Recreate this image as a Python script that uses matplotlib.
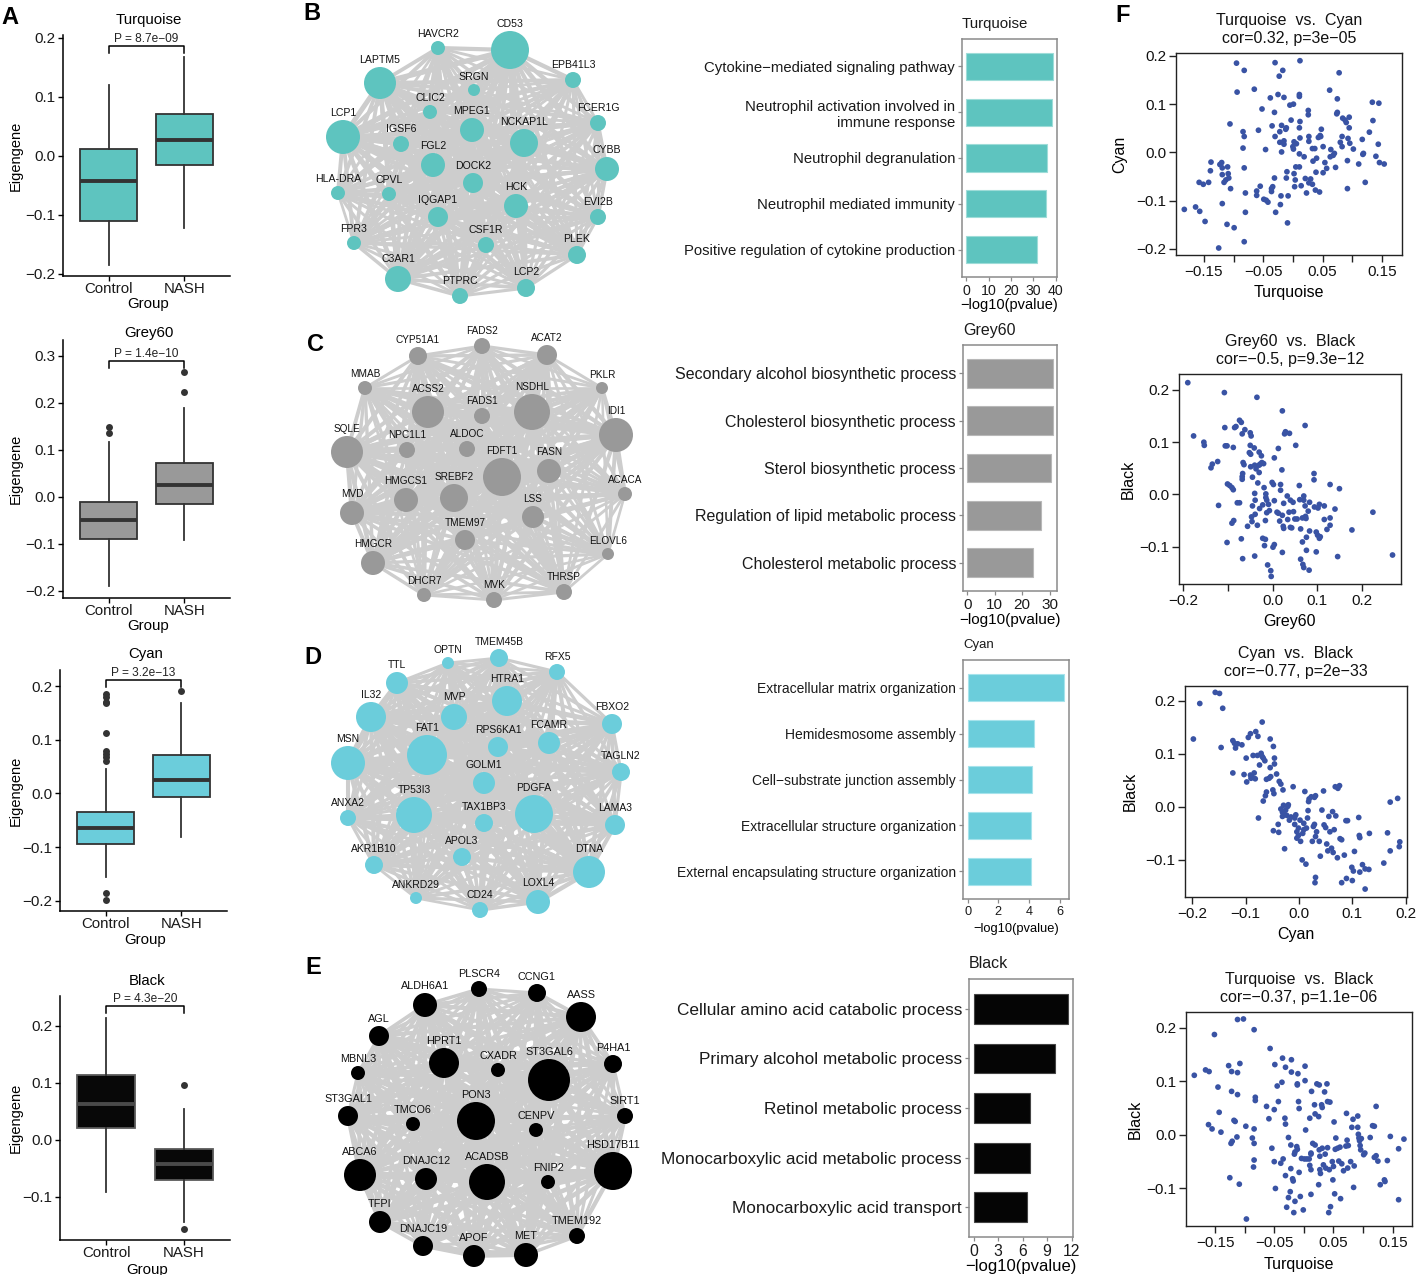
import numpy as np
import matplotlib
matplotlib.use('Agg')
import matplotlib.pyplot as plt
from matplotlib.collections import LineCollection
from itertools import combinations

plt.rcParams['font.family'] = ['Liberation Sans', 'DejaVu Sans']
plt.rcParams['axes.unicode_minus'] = True

# ---------------------------------------------------------------- DATA
# Panel A: module eigengene boxplots  [whislo, q1, median, q3, whishi]
box_groups = ['Control', 'NASH']
box_modules = ['Turquoise', 'Grey60', 'Cyan', 'Black']
box_pvalues = ['8.7e−09', '1.4e−10', '3.2e−13', '4.3e−20']
turquoise_control = [-0.185, -0.111, -0.0435, 0.011, 0.120]
turquoise_nash = [-0.123, -0.016, 0.026, 0.071, 0.167]
grey60_control = [-0.190, -0.090, -0.049, -0.011, 0.117]
grey60_nash = [-0.091, -0.015, 0.025, 0.072, 0.190]
cyan_control = [-0.155, -0.094, -0.065, -0.034, 0.046]
cyan_nash = [-0.081, -0.006, 0.025, 0.071, 0.169]
black_control = [-0.092, 0.020, 0.063, 0.113, 0.214]
black_nash = [-0.144, -0.071, -0.042, -0.016, 0.054]
turquoise_control_out = []
turquoise_nash_out = []
grey60_control_out = [0.136, 0.149]
grey60_nash_out = [0.223, 0.266]
cyan_control_out = [0.186, 0.179, 0.171, 0.168, 0.112, 0.080, 0.074, 0.067, 0.061, -0.185, -0.199]
cyan_nash_out = [0.190]
black_control_out = []
black_nash_out = [0.096, -0.156]

# Panels B-E: co-expression networks (layout coordinates and node size)
genes_B = ['CD53', 'HAVCR2', 'LAPTM5', 'EPB41L3', 'SRGN', 'CLIC2', 'MPEG1', 'LCP1', 'FCER1G', 'NCKAP1L',
           'IGSF6', 'FGL2', 'CYBB', 'DOCK2', 'HLA-DRA', 'CPVL', 'HCK', 'EVI2B', 'IQGAP1', 'FPR3',
           'CSF1R', 'PLEK', 'C3AR1', 'LCP2', 'PTPRC']
xB = [510, 438, 380, 573, 474, 430, 472, 343, 598, 524, 401, 433, 607, 473, 338, 389, 516, 598, 438, 354,
      486, 577, 398, 526, 460]
yB = [50, 48, 83, 80, 90, 112, 130, 137, 123, 143, 144, 165, 169, 183, 193, 194, 206, 217, 217, 243,
      245, 255, 279, 288, 296]
rB = [19, 7, 16, 8, 6, 7, 12, 17, 8, 14, 8, 12, 12, 10, 7, 7, 12, 8, 10, 7, 8, 9, 13, 9, 8]

genes_C = ['FADS2', 'CYP51A1', 'ACAT2', 'MMAB', 'PKLR', 'ACSS2', 'NSDHL', 'FADS1', 'IDI1', 'SQLE',
           'NPC1L1', 'ALDOC', 'FDFT1', 'FASN', 'ACACA', 'HMGCS1', 'SREBF2', 'MVD', 'LSS', 'TMEM97',
           'HMGCR', 'ELOVL6', 'DHCR7', 'MVK', 'THRSP']
xC = [482, 418, 547, 365, 602, 428, 532, 482, 616, 347, 407, 467, 502, 549, 625, 406, 454, 352, 533, 465,
      373, 608, 424, 494, 564]
yC = [346, 356, 355, 388, 388, 412, 412, 416, 435, 452, 450, 449, 477, 471, 494, 500, 498, 513, 517, 540,
      563, 554, 595, 600, 592]
rC = [8, 9, 10, 7, 6, 16, 18, 8, 17, 16, 8, 8, 19, 12, 7, 12, 14, 12, 11, 10, 12, 6, 7, 8, 8]

genes_D = ['OPTN', 'TMEM45B', 'RFX5', 'TTL', 'HTRA1', 'IL32', 'MVP', 'FBXO2', 'FCAMR', 'RPS6KA1',
           'FAT1', 'MSN', 'TAGLN2', 'GOLM1', 'PDGFA', 'TP53I3', 'ANXA2', 'TAX1BP3', 'LAMA3', 'APOL3',
           'AKR1B10', 'DTNA', 'LOXL4', 'ANKRD29', 'CD24']
xD = [448, 499, 557, 397, 507, 371, 454, 612, 549, 498, 427, 348, 621, 484, 534, 414, 348, 484, 615, 462,
      374, 589, 538, 416, 480]
yD = [663, 658, 672, 683, 701, 717, 717, 724, 743, 747, 755, 763, 772, 783, 814, 815, 818, 823, 825, 857,
      865, 872, 902, 898, 910]
rD = [6, 9, 8, 11, 15, 15, 13, 10, 11, 10, 20, 17, 9, 11, 19, 18, 8, 9, 10, 9, 9, 16, 12, 6, 8]

genes_E = ['PLSCR4', 'CCNG1', 'ALDH6A1', 'AASS', 'AGL', 'HPRT1', 'CXADR', 'ST3GAL6', 'P4HA1', 'MBNL3',
           'ST3GAL1', 'PON3', 'SIRT1', 'TMCO6', 'CENPV', 'ABCA6', 'DNAJC12', 'ACADSB', 'FNIP2', 'HSD17B11',
           'TFPI', 'TMEM192', 'DNAJC19', 'APOF', 'MET']
xE = [479, 537, 425, 581, 379, 444, 498, 549, 613, 358, 348, 476, 625, 413, 536, 360, 426, 487, 548, 613,
      380, 577, 423, 474, 526]
yE = [989, 993, 1005, 1017, 1036, 1063, 1070, 1080, 1064, 1073, 1116, 1121, 1116, 1124, 1130, 1175, 1179,
      1182, 1182, 1171, 1222, 1236, 1246, 1256, 1255]
rE = [8, 9, 12, 15, 10, 15, 7, 21, 9, 7, 10, 19, 8, 7, 7, 16, 11, 18, 7, 19, 11, 8, 10, 11, 12]

# GO enrichment bars (-log10 p)
go_turquoise_terms = ['Cytokine−mediated signaling pathway', 'Neutrophil activation involved in\nimmune response',
                      'Neutrophil degranulation', 'Neutrophil mediated immunity',
                      'Positive regulation of cytokine production']
go_turquoise_values = [38.7, 38.2, 36.3, 35.8, 31.7]
go_grey60_terms = ['Secondary alcohol biosynthetic process', 'Cholesterol biosynthetic process',
                   'Sterol biosynthetic process', 'Regulation of lipid metabolic process',
                   'Cholesterol metabolic process']
go_grey60_values = [31.1, 31.1, 30.4, 26.7, 24.1]
go_cyan_terms = ['Extracellular matrix organization', 'Hemidesmosome assembly',
                 'Cell−substrate junction assembly', 'Extracellular structure organization',
                 'External encapsulating structure organization']
go_cyan_values = [6.3, 4.3, 4.2, 4.15, 4.15]
go_black_terms = ['Cellular amino acid catabolic process', 'Primary alcohol metabolic process',
                  'Retinol metabolic process', 'Monocarboxylic acid metabolic process',
                  'Monocarboxylic acid transport']
go_black_values = [11.6, 10.0, 6.95, 6.95, 6.55]

# Panel F: eigengene scatter plots
turquoise_vs_cyan = [
    (-0.183, -0.118), (-0.164, -0.113), (-0.157, -0.122), (-0.148, -0.143), (-0.158, -0.062), (-0.151, -0.066),
    (-0.142, -0.062), (-0.139, -0.038), (-0.138, -0.020), (-0.123, -0.025), (-0.120, -0.021), (-0.119, -0.032),
    (-0.119, -0.046), (-0.116, -0.062), (-0.113, -0.057), (-0.110, -0.030), (-0.109, -0.044), (-0.108, -0.053),
    (-0.105, -0.075), (-0.119, -0.106), (-0.111, -0.149), (-0.099, -0.156), (-0.125, -0.198), (-0.106, 0.059),
    (-0.095, 0.185), (-0.094, 0.125), (-0.082, 0.170), (-0.084, 0.043), (-0.082, 0.033), (-0.084, 0.009),
    (-0.082, -0.032), (-0.080, -0.084), (-0.080, -0.124), (-0.082, -0.185), (-0.065, 0.131), (-0.052, 0.090),
    (-0.058, 0.046), (-0.046, 0.006), (-0.061, -0.080), (-0.061, -0.089), (-0.055, -0.070), (-0.049, -0.097),
    (-0.045, -0.099), (-0.042, -0.103), (-0.038, 0.113), (-0.035, 0.055), (-0.036, -0.075), (-0.036, -0.081),
    (-0.034, -0.071), (-0.031, 0.083), (-0.030, 0.186), (-0.030, 0.033), (-0.031, -0.053), (-0.029, -0.124),
    (-0.025, 0.120), (-0.023, 0.158), (-0.022, 0.021), (-0.022, 0.043), (-0.019, 0.056), (-0.019, 0.001),
    (-0.020, -0.090), (-0.021, -0.108), (-0.017, 0.170), (-0.015, 0.114), (-0.015, 0.024), (-0.015, 0.017),
    (-0.012, 0.048), (-0.011, 0.051), (-0.010, -0.040), (-0.011, -0.053), (-0.008, -0.090), (-0.009, -0.146),
    (-0.005, 0.098), (0.001, 0.100), (-0.003, 0.067), (0.000, 0.012), (0.001, 0.007), (0.002, 0.022),
    (0.006, 0.018), (0.005, -0.030), (0.002, -0.044), (0.004, -0.057), (0.003, -0.071), (0.012, 0.190),
    (0.011, 0.116), (0.011, 0.120), (0.012, 0.064), (0.011, 0.051), (0.012, 0.030), (0.011, -0.003),
    (0.011, -0.030), (0.014, -0.069), (0.019, -0.009), (0.021, -0.054), (0.023, -0.084), (0.026, 0.087),
    (0.026, 0.078), (0.027, 0.033), (0.027, 0.023), (0.027, -0.063), (0.030, -0.055), (0.033, -0.066),
    (0.033, 0.008), (0.037, 0.008), (0.034, -0.018), (0.040, -0.012), (0.039, -0.041), (0.043, 0.031),
    (0.046, 0.035), (0.047, 0.033), (0.048, 0.048), (0.051, 0.012), (0.054, -0.021), (0.051, -0.042),
    (0.038, -0.078), (0.045, -0.082), (0.057, -0.033), (0.063, -0.009), (0.062, 0.129), (0.064, 0.006),
    (0.068, -0.006), (0.070, -0.002), (0.072, -0.031), (0.075, 0.111), (0.074, 0.080), (0.075, 0.083),
    (0.078, 0.165), (0.080, 0.021), (0.083, 0.033), (0.083, 0.012), (0.084, 0.071), (0.088, 0.067),
    (0.090, 0.062), (0.093, 0.029), (0.092, -0.075), (0.092, -0.017), (0.095, 0.073), (0.095, 0.051),
    (0.096, 0.019), (0.102, 0.007), (0.111, -0.024), (0.117, 0.027), (0.118, -0.004), (0.119, -0.002),
    (0.122, -0.062), (0.129, 0.042), (0.134, 0.104), (0.135, 0.066), (0.140, -0.008), (0.144, 0.017),
    (0.145, 0.102), (0.146, -0.021), (0.154, -0.024)]

grey60_vs_black = [
    (-0.190, 0.214), (-0.177, 0.112), (-0.154, 0.100), (-0.153, 0.094), (-0.123, 0.063), (-0.135, 0.058),
    (-0.138, 0.051), (-0.121, -0.021), (-0.108, 0.195), (-0.107, 0.128), (-0.106, 0.093), (-0.102, 0.093),
    (-0.101, 0.020), (-0.096, 0.017), (-0.091, 0.013), (-0.088, 0.009), (-0.088, 0.090), (-0.102, -0.092),
    (-0.091, -0.055), (-0.087, -0.050), (-0.085, 0.128), (-0.082, 0.130), (-0.074, 0.142), (-0.070, 0.138),
    (-0.068, 0.116), (-0.062, 0.124), (-0.066, 0.061), (-0.064, 0.057), (-0.067, 0.040), (-0.068, 0.034),
    (-0.068, 0.029), (-0.079, -0.016), (-0.074, -0.016), (-0.070, -0.085), (-0.067, -0.123), (-0.056, -0.061),
    (-0.050, 0.094), (-0.050, 0.118), (-0.048, 0.112), (-0.052, 0.080), (-0.049, 0.077), (-0.049, 0.053),
    (-0.045, 0.033), (-0.047, -0.043), (-0.046, -0.052), (-0.045, -0.022), (-0.041, 0.089), (-0.040, 0.056),
    (-0.040, 0.002), (-0.039, -0.011), (-0.039, -0.038), (-0.040, -0.118), (-0.037, 0.049), (-0.035, 0.186),
    (-0.033, 0.022), (-0.034, -0.059), (-0.030, 0.081), (-0.030, 0.056), (-0.030, 0.042), (-0.029, -0.027),
    (-0.028, 0.058), (-0.025, 0.074), (-0.024, 0.061), (-0.020, 0.059), (-0.022, -0.020), (-0.022, -0.084),
    (-0.019, 0.013), (-0.018, -0.098), (-0.016, -0.050), (-0.016, -0.086), (-0.015, 0.001), (-0.015, -0.006),
    (-0.013, -0.011), (-0.013, -0.035), (-0.011, -0.135), (-0.009, -0.019), (-0.007, -0.031), (-0.004, -0.146),
    (-0.003, -0.157), (-0.001, 0.023), (0.001, -0.101), (0.002, 0.019), (0.004, -0.012), (0.004, 0.070),
    (0.004, -0.096), (0.010, -0.034), (0.013, 0.088), (0.013, -0.036), (0.016, -0.051), (0.018, 0.019),
    (0.018, 0.008), (0.021, 0.047), (0.022, 0.160), (0.022, -0.040), (0.022, -0.111), (0.025, -0.017),
    (0.024, -0.061), (0.025, -0.065), (0.027, 0.116), (0.029, 0.120), (0.033, -0.003), (0.034, -0.048),
    (0.037, -0.034), (0.038, 0.117), (0.040, -0.011), (0.040, -0.063), (0.043, -0.064), (0.046, -0.015),
    (0.047, -0.033), (0.050, -0.047), (0.052, 0.094), (0.055, -0.047), (0.060, 0.017), (0.061, -0.010),
    (0.063, -0.066), (0.063, -0.124), (0.067, -0.045), (0.067, -0.091), (0.068, -0.134), (0.070, -0.003),
    (0.070, -0.140), (0.070, -0.011), (0.073, 0.132), (0.073, -0.022), (0.074, -0.042), (0.075, -0.046),
    (0.076, -0.082), (0.076, -0.107), (0.080, -0.032), (0.082, -0.145), (0.083, -0.015), (0.083, -0.070),
    (0.093, 0.040), (0.093, 0.028), (0.094, -0.024), (0.098, -0.072), (0.098, -0.110), (0.101, -0.078),
    (0.102, -0.026), (0.105, -0.019), (0.105, -0.084), (0.107, -0.081), (0.116, -0.022), (0.116, -0.048),
    (0.122, -0.067), (0.129, -0.045), (0.129, 0.019), (0.129, -0.059), (0.140, -0.028), (0.146, -0.119),
    (0.150, 0.011), (0.178, -0.068), (0.225, -0.034), (0.269, -0.116)]

cyan_vs_black = [
    (-0.198, 0.128), (-0.186, 0.195), (-0.157, 0.216), (-0.149, 0.214), (-0.143, 0.186), (-0.146, 0.112),
    (-0.124, 0.125), (-0.121, 0.120), (-0.119, 0.111), (-0.115, 0.119), (-0.107, 0.117), (-0.124, 0.064),
    (-0.103, 0.061), (-0.099, 0.092), (-0.098, 0.047), (-0.095, 0.131), (-0.091, 0.138), (-0.091, 0.060),
    (-0.090, 0.054), (-0.088, 0.056), (-0.084, 0.064), (-0.082, 0.053), (-0.086, 0.097), (-0.081, 0.142),
    (-0.078, 0.097), (-0.077, 0.133), (-0.074, 0.079), (-0.071, 0.101), (-0.069, 0.160), (-0.069, 0.095),
    (-0.067, 0.092), (-0.067, 0.011), (-0.076, -0.021), (-0.064, 0.087), (-0.063, 0.021), (-0.061, 0.028),
    (-0.061, 0.052), (-0.056, 0.054), (-0.054, 0.074), (-0.054, 0.128), (-0.053, 0.057), (-0.049, 0.032),
    (-0.048, 0.114), (-0.047, 0.025), (-0.046, 0.092), (-0.046, 0.081), (-0.048, -0.045), (-0.042, 0.062),
    (-0.039, -0.033), (-0.038, -0.048), (-0.037, 0.048), (-0.034, 0.043), (-0.030, 0.032), (-0.034, -0.004),
    (-0.031, -0.010), (-0.031, -0.018), (-0.029, 0.003), (-0.028, -0.013), (-0.027, -0.079), (-0.025, -0.006),
    (-0.023, -0.016), (-0.021, 0.001), (-0.020, 0.004), (-0.018, -0.025), (-0.015, -0.019), (-0.011, 0.038),
    (-0.008, -0.021), (-0.008, -0.033), (-0.006, -0.015), (-0.004, -0.047), (-0.004, -0.059), (-0.001, -0.040),
    (-0.001, -0.054), (0.002, -0.025), (0.003, -0.065), (0.006, -0.100), (0.007, -0.050), (0.009, -0.043),
    (0.009, -0.031), (0.011, 0.029), (0.013, -0.108), (0.014, -0.040), (0.016, -0.021), (0.017, -0.007),
    (0.018, 0.010), (0.019, 0.015), (0.023, 0.019), (0.025, -0.065), (0.027, -0.037), (0.029, 0.018),
    (0.029, -0.033), (0.031, 0.021), (0.031, -0.056), (0.031, -0.133), (0.030, -0.143), (0.033, -0.047),
    (0.038, -0.065), (0.040, -0.093), (0.043, -0.006), (0.046, 0.030), (0.047, -0.034), (0.050, -0.039),
    (0.052, -0.070), (0.054, -0.083), (0.056, -0.018), (0.058, -0.047), (0.061, -0.078), (0.063, -0.009),
    (0.064, -0.086), (0.066, -0.043), (0.068, 0.038), (0.069, -0.017), (0.072, -0.096), (0.073, 0.035),
    (0.076, 0.040), (0.077, -0.060), (0.080, -0.062), (0.080, -0.143), (0.085, -0.091), (0.088, -0.026),
    (0.089, -0.135), (0.091, -0.026), (0.099, -0.114), (0.100, -0.139), (0.102, -0.121), (0.104, -0.084),
    (0.112, -0.020), (0.113, -0.054), (0.114, -0.058), (0.114, -0.123), (0.119, -0.109), (0.124, -0.117),
    (0.124, -0.155), (0.131, -0.118), (0.132, -0.050), (0.159, -0.106), (0.166, -0.049), (0.171, 0.009),
    (0.171, -0.083), (0.185, 0.016), (0.188, -0.075), (0.189, -0.066)]

turquoise_vs_black = [
    (-0.185, 0.111), (-0.166, 0.121), (-0.160, 0.118), (-0.151, 0.187), (-0.145, 0.089), (-0.143, 0.042),
    (-0.140, 0.005), (-0.161, 0.019), (-0.155, 0.011), (-0.127, 0.129), (-0.125, -0.080), (-0.122, 0.118),
    (-0.122, 0.081), (-0.121, -0.012), (-0.123, -0.016), (-0.118, 0.027), (-0.116, 0.025), (-0.113, -0.004),
    (-0.112, 0.215), (-0.112, 0.116), (-0.112, 0.075), (-0.108, 0.133), (-0.109, -0.092), (-0.102, 0.216),
    (-0.098, 0.016), (-0.097, -0.157), (-0.087, -0.006), (-0.084, 0.196), (-0.084, 0.011), (-0.084, -0.016),
    (-0.084, -0.047), (-0.085, -0.060), (-0.082, 0.070), (-0.082, 0.064), (-0.063, 0.053), (-0.059, 0.030),
    (-0.057, 0.161), (-0.054, -0.025), (-0.050, -0.050), (-0.050, 0.047), (-0.049, 0.131), (-0.048, -0.100),
    (-0.045, 0.091), (-0.043, 0.062), (-0.039, -0.053), (-0.037, 0.098), (-0.036, 0.143), (-0.035, -0.045),
    (-0.032, 0.031), (-0.031, 0.020), (-0.031, 0.126), (-0.031, -0.076), (-0.029, -0.135), (-0.026, -0.005),
    (-0.026, -0.117), (-0.023, -0.106), (-0.022, -0.019), (-0.022, -0.063), (-0.021, 0.140), (-0.021, 0.117),
    (-0.019, -0.082), (-0.018, -0.086), (-0.017, -0.145), (-0.016, -0.036), (-0.015, -0.032), (-0.015, -0.124),
    (-0.012, -0.022), (-0.011, 0.095), (-0.011, 0.093), (-0.011, -0.027), (-0.010, 0.114), (-0.009, 0.062),
    (-0.008, 0.049), (-0.008, -0.070), (-0.006, -0.115), (-0.004, -0.044), (-0.001, -0.140), (0.001, -0.045),
    (0.002, 0.128), (0.002, 0.101), (0.003, 0.009), (0.005, -0.045), (0.009, -0.045), (0.010, 0.031),
    (0.010, -0.057), (0.012, -0.065), (0.012, -0.111), (0.012, -0.034), (0.012, -0.036), (0.013, 0.081),
    (0.015, -0.016), (0.018, 0.056), (0.019, -0.019), (0.019, 0.039), (0.022, 0.095), (0.025, 0.034),
    (0.025, -0.093), (0.026, 0.093), (0.026, -0.028), (0.027, -0.040), (0.027, -0.065), (0.028, -0.072),
    (0.030, 0.056), (0.031, 0.051), (0.031, -0.025), (0.033, -0.056), (0.035, 0.080), (0.036, -0.036),
    (0.037, -0.062), (0.039, 0.095), (0.040, -0.024), (0.040, 0.062), (0.042, -0.145), (0.043, -0.065),
    (0.044, 0.061), (0.045, -0.134), (0.048, -0.050), (0.049, -0.084), (0.050, -0.059), (0.051, 0.024),
    (0.052, -0.110), (0.053, -0.027), (0.054, -0.006), (0.057, -0.025), (0.059, -0.049), (0.061, -0.023),
    (0.062, -0.119), (0.064, -0.054), (0.067, -0.067), (0.071, -0.021), (0.072, 0.040), (0.073, -0.010),
    (0.074, -0.062), (0.075, -0.020), (0.079, -0.050), (0.081, 0.014), (0.083, 0.029), (0.084, -0.098),
    (0.085, -0.058), (0.091, 0.014), (0.091, 0.035), (0.092, 0.001), (0.093, -0.006), (0.094, -0.011),
    (0.095, -0.020), (0.096, -0.028), (0.097, -0.007), (0.101, -0.037), (0.103, -0.034), (0.112, -0.005),
    (0.116, 0.017), (0.119, 0.016), (0.119, -0.042), (0.122, 0.053), (0.122, -0.039), (0.125, -0.049),
    (0.129, -0.093), (0.136, -0.084), (0.137, -0.087), (0.141, -0.048), (0.146, -0.003), (0.160, -0.026),
    (0.160, -0.121), (0.169, -0.008)]

scatter_titles = [('Turquoise', 'Cyan', '0.32', '3e−05'), ('Grey60', 'Black', '−0.5', '9.3e−12'),
                  ('Cyan', 'Black', '−0.77', '2e−33'), ('Turquoise', 'Black', '−0.37', '1.1e−06')]

# ---------------------------------------------------------------- FIGURE
W, H = 1417, 1275
fig = plt.figure(figsize=(W / 100, H / 100), dpi=100)
fig.patch.set_facecolor('white')


def add_ax(x0, y0, x1, y1):
    return fig.add_axes([x0 / W, 1 - y1 / H, (x1 - x0) / W, (y1 - y0) / H])


def ftext(x, y, s, **kw):
    return fig.text(x / W, 1 - y / H, s, **kw)


def fmt(v, nd):
    s = f'{v:.{nd}f}'
    if s.startswith('-'):
        s = '−' + s[1:]
    if s.strip('−0.') == '':
        s = s.lstrip('−')
    return s


def place_xlabel(ax, text, x, y, fs):
    ax.set_xlabel(text, fontsize=fs)
    ax.xaxis.set_label_coords(x / W, 1 - y / H, transform=fig.transFigure)
    ax.xaxis.label.set_va('center')


def place_ylabel(ax, text, x, y, fs):
    ax.set_ylabel(text, fontsize=fs)
    ax.yaxis.set_label_coords(x / W, 1 - y / H, transform=fig.transFigure)
    ax.yaxis.label.set_va('center')


# panel letters
for L, (lx, ly) in zip('ABCDEF', [(10, 17), (312, 14), (316, 345), (313, 657), (313, 968), (1123, 15)]):
    ftext(lx, ly, L, fontsize=17, fontweight='bold', ha='center', va='center')

# ---------------------------------------------------------------- PANEL A
box_stats = [(turquoise_control, turquoise_nash, turquoise_control_out, turquoise_nash_out),
             (grey60_control, grey60_nash, grey60_control_out, grey60_nash_out),
             (cyan_control, cyan_nash, cyan_control_out, cyan_nash_out),
             (black_control, black_nash, black_control_out, black_nash_out)]
A_layout = [
    dict(px=(63, 35, 230, 276), ylim=(-0.204, 0.205), yticks=[-0.2, -0.1, 0, 0.1, 0.2], br=0.186, ty=20, gy=304,
         fill='#5ec4bf', edge='#333333', med='#333333'),
    dict(px=(63, 340, 230, 598), ylim=(-0.215, 0.334), yticks=[-0.2, -0.1, 0, 0.1, 0.2, 0.3], br=0.289, ty=333,
         gy=626, fill='#999999', edge='#333333', med='#333333'),
    dict(px=(60, 670, 227, 911), ylim=(-0.219, 0.230), yticks=[-0.2, -0.1, 0, 0.1, 0.2], br=0.211, ty=654, gy=940,
         fill='#6bcddb', edge='#333333', med='#333333'),
    dict(px=(60, 996, 230, 1240), ylim=(-0.176, 0.252), yticks=[-0.1, 0, 0.1, 0.2], br=0.234, ty=981, gy=1270,
         fill='#080808', edge='#5a5a5a', med='#4a4a4a'),
]
for mod, pval, (c, n, co, no), lay in zip(box_modules, box_pvalues, box_stats, A_layout):
    x0, y0, x1, y1 = lay['px']
    ax = add_ax(x0, y0, x1, y1)
    stats = []
    for name, v, out in zip(box_groups, (c, n), (co, no)):
        stats.append(dict(whislo=v[0], q1=v[1], med=v[2], q3=v[3], whishi=v[4], fliers=out, label=name))
    ax.bxp(stats, positions=[1, 2], widths=0.75, patch_artist=True, showcaps=False,
           boxprops=dict(facecolor=lay['fill'], edgecolor=lay['edge'], linewidth=1.3),
           medianprops=dict(color=lay['med'], linewidth=2.8, solid_capstyle='butt'),
           whiskerprops=dict(color='#333333', linewidth=1.3),
           flierprops=dict(marker='o', markerfacecolor='#333333', markeredgecolor='none', markersize=5))
    ax.set_xlim(0.4, 2.6)
    ax.set_ylim(*lay['ylim'])
    rng = lay['ylim'][1] - lay['ylim'][0]
    d = 6.5 * rng / (y1 - y0)
    b = lay['br']
    ax.plot([1, 1, 2, 2], [b - d, b, b, b - d], color='black', lw=1.1, clip_on=False)
    ax.text(1.5, b + 1.5 * rng / (y1 - y0), 'P = ' + pval, ha='center', va='bottom', fontsize=8.6, color='#222222')
    ax.set_yticks(lay['yticks'])
    ax.set_yticklabels([fmt(v, 1) for v in lay['yticks']])
    ax.set_xticks([1, 2])
    ax.set_xticklabels(box_groups)
    for s in ('top', 'right'):
        ax.spines[s].set_visible(False)
    for s in ('left', 'bottom'):
        ax.spines[s].set_linewidth(1.1)
    ax.tick_params(axis='both', length=3.5, width=1.0, color='black', labelcolor='#1a1a1a', pad=2)
    ax.tick_params(axis='y', labelsize=11)
    ax.tick_params(axis='x', labelsize=10.8, pad=1)
    ax.set_facecolor('none')
    ftext((x0 + x1) / 2 + 2, lay['ty'], mod, fontsize=10.8, ha='center', va='center')
    place_xlabel(ax, 'Group', (x0 + x1) / 2 + 2, lay['gy'], 10.8)
    place_ylabel(ax, 'Eigengene', 16, (y0 + y1) / 2, 10.5)

# ---------------------------------------------------------------- NETWORKS B-E
axn = add_ax(300, 0, 660, H)
axn.set_xlim(300, 660)
axn.set_ylim(H, 0)
axn.axis('off')
networks = [(genes_B, xB, yB, rB, '#5ec4bf', 7.6), (genes_C, xC, yC, rC, '#999999', 7.2),
            (genes_D, xD, yD, rD, '#6bcddb', 7.5), (genes_E, xE, yE, rE, '#000000', 7.8)]
for genes, xs, ys, rs, col, fs in networks:
    segs, lws = [], []
    for i, j in combinations(range(len(genes)), 2):
        segs.append([(xs[i], ys[i]), (xs[j], ys[j])])
        lws.append(0.8 + 0.085 * (rs[i] + rs[j]))
    axn.add_collection(LineCollection(segs, colors='#cdcdcd', linewidths=lws, zorder=1, capstyle='round'))
    axn.scatter(xs, ys, s=[(2 * r * 0.72) ** 2 for r in rs], color=col, edgecolors='none', zorder=2)
    for g, x, y, r in zip(genes, xs, ys, rs):
        axn.text(x, y - r - 2, g, fontsize=fs, ha='center', va='bottom', color='#111111', zorder=3)

# ---------------------------------------------------------------- GO BARS
bar_sets = [
    ('Turquoise', go_turquoise_terms, go_turquoise_values, '#5ec4bf', '#9edcd8', [0, 10, 20, 30, 40],
     dict(px=(962, 39, 1057, 277), lab=10.7, tick=10.2, xl=10.5, tt=10.8, ty=24, xly=305)),
    ('Grey60', go_grey60_terms, go_grey60_values, '#999999', '#b8b8b8', [0, 10, 20, 30],
     dict(px=(963, 345, 1057, 591), lab=11.5, tick=11, xl=11, tt=11.5, ty=331, xly=620)),
    ('Cyan', go_cyan_terms, go_cyan_values, '#6bcddb', '#a6e3ec', [0, 2, 4, 6],
     dict(px=(963, 660, 1069, 899), lab=10, tick=9.2, xl=9.3, tt=9.5, ty=645, xly=929)),
    ('Black', go_black_terms, go_black_values, '#050505', '#444444', [0, 3, 6, 9, 12],
     dict(px=(969, 979, 1073, 1237), lab=12.4, tick=11.3, xl=12, tt=11.5, ty=963, xly=1266)),
]
for title, terms, vals, col, ecol, ticks, lay in bar_sets:
    x0, y0, x1, y1 = lay['px']
    ax = add_ax(x0, y0, x1, y1)
    pos = np.arange(1, len(terms) + 1)
    ax.barh(pos, vals, height=0.6, color=col, edgecolor=ecol, linewidth=0.8)
    m = 0.05 * max(vals)
    ax.set_xlim(-m, max(vals) + m)
    ax.set_ylim(len(terms) + 0.6, 0.4)
    ax.set_yticks(pos)
    ax.set_yticklabels(terms, fontsize=lay['lab'], color='#1a1a1a')
    ax.set_xticks(ticks)
    ax.set_xticklabels([str(t) for t in ticks], fontsize=lay['tick'], color='#1a1a1a')
    for s in ax.spines.values():
        s.set_color('#8a8a8a')
        s.set_linewidth(1.1)
    ax.tick_params(axis='both', length=3, width=0.9, color='#8a8a8a', pad=2)
    ftext(x0, lay['ty'], title, fontsize=lay['tt'], ha='left', va='center', color='#1a1a1a')
    place_xlabel(ax, '−log10(pvalue)', (x0 + x1) / 2, lay['xly'], lay['xl'])

# ---------------------------------------------------------------- SCATTERS F
F_layout = [
    dict(px=(1176, 53, 1402, 255), xlim=(-0.197, 0.184), ylim=(-0.2125, 0.206),
         xt=[-0.15, -0.1, -0.05, 0, 0.05, 0.1, 0.15], xl=[-0.15, -0.05, 0.05, 0.15], nd=2,
         yt=[-0.2, -0.1, 0, 0.1, 0.2], ylx=1120, xly=293),
    dict(px=(1179, 374, 1401, 584), xlim=(-0.2097, 0.288), ylim=(-0.1715, 0.2306),
         xt=[-0.2, -0.1, 0, 0.1, 0.2], xl=[-0.2, 0, 0.1, 0.2], nd=1,
         yt=[-0.1, 0, 0.1, 0.2], ylx=1128, xly=622),
    dict(px=(1185, 686, 1407, 897), xlim=(-0.2137, 0.2025), ylim=(-0.170, 0.228),
         xt=[-0.2, -0.1, 0, 0.1, 0.2], xl=[-0.2, -0.1, 0, 0.1, 0.2], nd=1,
         yt=[-0.1, 0, 0.1, 0.2], ylx=1130, xly=935),
    dict(px=(1186, 1012, 1412, 1226), xlim=(-0.199, 0.1826), ylim=(-0.170, 0.229),
         xt=[-0.15, -0.1, -0.05, 0, 0.05, 0.1, 0.15], xl=[-0.15, -0.05, 0.05, 0.15], nd=2,
         yt=[-0.1, 0, 0.1, 0.2], ylx=1135, xly=1265),
]
for pts, (a, b, cor, p), lay in zip([turquoise_vs_cyan, grey60_vs_black, cyan_vs_black, turquoise_vs_black],
                                    scatter_titles, F_layout):
    x0, y0, x1, y1 = lay['px']
    ax = add_ax(x0, y0, x1, y1)
    arr = np.array(pts)
    ax.scatter(arr[:, 0], arr[:, 1], s=17, color='#3953a4', edgecolors='none')
    ax.set_xlim(*lay['xlim'])
    ax.set_ylim(*lay['ylim'])
    ax.set_xticks(lay['xt'])
    ax.set_xticklabels([fmt(v, lay['nd']) if any(np.isclose(v, lay['xl'])) else '' for v in lay['xt']])
    ax.set_yticks(lay['yt'])
    ax.set_yticklabels([fmt(v, 1) for v in lay['yt']])
    for s in ax.spines.values():
        s.set_linewidth(1.0)
        s.set_color('#222222')
    ax.tick_params(axis='both', length=5, width=1.0, color='#222222', labelsize=11, labelcolor='#111111', pad=2)
    ax.set_title(f'{a}  vs.  {b}\ncor={cor}, p={p}', fontsize=11.5, pad=7, linespacing=1.25, color='#111111')
    place_ylabel(ax, b, lay['ylx'], (y0 + y1) / 2, 11.5)
    place_xlabel(ax, a, (x0 + x1) / 2, lay['xly'], 11.5)

fig.savefig('out.png', dpi=100, facecolor='white')
